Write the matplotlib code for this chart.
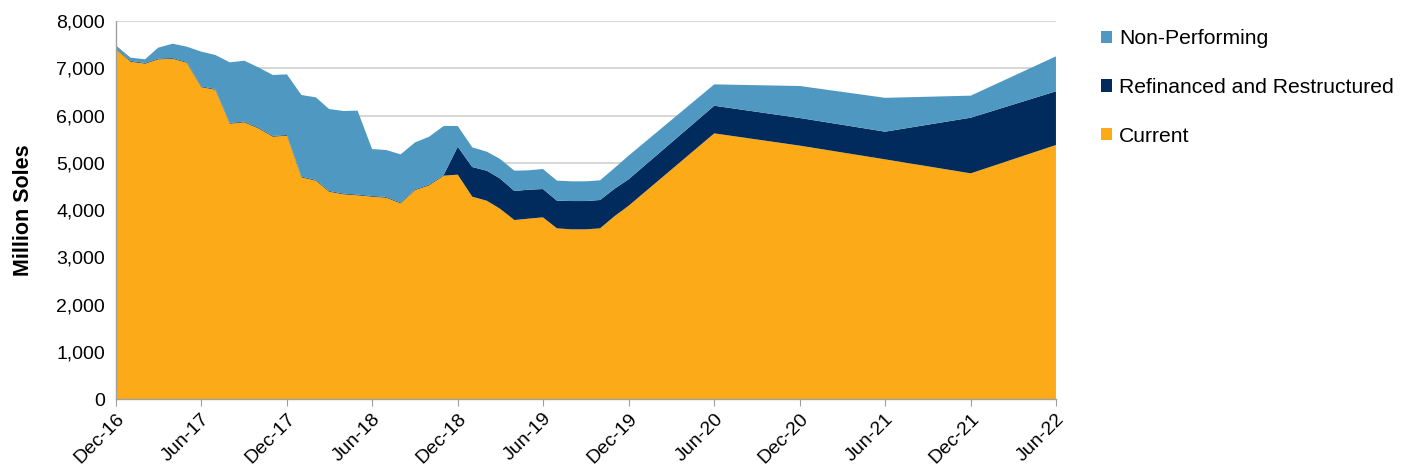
import matplotlib
matplotlib.use("Agg")
import matplotlib.pyplot as plt
import matplotlib.dates as mdates
import pandas as pd
import numpy as np
from matplotlib.patches import Patch

plt.rcParams['font.family'] = ['Liberation Sans', 'DejaVu Sans']

months = ["2016-12", "2017-01", "2017-02", "2017-03", "2017-04", "2017-05", "2017-06",
          "2017-07", "2017-08", "2017-09", "2017-10", "2017-11", "2017-12",
          "2018-01", "2018-02", "2018-03", "2018-04", "2018-05", "2018-06",
          "2018-07", "2018-08", "2018-09", "2018-10", "2018-11", "2018-12",
          "2019-01", "2019-02", "2019-03", "2019-04", "2019-05", "2019-06",
          "2019-07", "2019-08", "2019-09", "2019-10", "2019-11", "2019-12",
          "2020-06", "2020-12", "2021-06", "2021-12", "2022-06"]

current = [7400, 7139, 7097, 7189, 7200, 7118, 6600,
           6546, 5827, 5856, 5729, 5552, 5573,
           4692, 4621, 4388, 4332, 4311, 4282,
           4261, 4141, 4423, 4522, 4727, 4748,
           4282, 4197, 4030, 3788, 3817, 3845,
           3612, 3591, 3591, 3612, 3870, 4090,
           5622, 5362, 5072, 4776, 5376]

refinanced = [15, 15, 15, 15, 15, 15, 15,
              15, 15, 15, 15, 15, 15,
              15, 15, 15, 15, 15, 15,
              15, 15, 15, 15, 15, 592,
              628, 635, 640, 614, 613, 599,
              585, 599, 599, 600, 580, 560,
              585, 585, 586, 1178, 1136]

non_performing = [65, 70, 78, 232, 305, 324, 737,
                  720, 1283, 1289, 1275, 1290, 1283,
                  1727, 1748, 1735, 1748, 1776, 993,
                  994, 1022, 994, 1015, 1036, 438,
                  416, 403, 413, 430, 410, 424,
                  424, 417, 417, 416, 440, 500,
                  452, 677, 716, 466, 740]

series_names = ["Current", "Refinanced and Restructured", "Non-Performing"]
colors = ["#FDAA19", "#002B5C", "#4E98C1"]

tick_months = ["2016-12", "2017-06", "2017-12", "2018-06", "2018-12", "2019-06",
               "2019-12", "2020-06", "2020-12", "2021-06", "2021-12", "2022-06"]

dates = pd.to_datetime(months)
tick_dates = pd.to_datetime(tick_months)

fig = plt.figure(figsize=(14.17, 4.73), dpi=100)
ax = fig.add_axes([0.0819, 0.1564, 0.6633, 0.7992])

ax.stackplot(dates, current, refinanced, non_performing, colors=colors,
             labels=series_names, linewidth=0)

ax.set_xlim(dates[0], dates[-1])
ax.set_ylim(0, 8000)
ax.set_yticks(np.arange(0, 8001, 1000))
ax.yaxis.set_major_formatter(matplotlib.ticker.FuncFormatter(lambda v, p: f"{int(v):,}"))
ax.grid(axis='y', color='#D0D0D0', linewidth=1.2)
ax.set_axisbelow(True)

ax.set_xticks(tick_dates)
ax.xaxis.set_major_formatter(mdates.DateFormatter("%b-%y"))
for lbl in ax.get_xticklabels():
    lbl.set_rotation(45)
    lbl.set_ha('right')
    lbl.set_rotation_mode('anchor')

ax.tick_params(axis='x', length=5, color='#A0A0A0', labelsize=14, pad=3)
ax.tick_params(axis='y', length=0, labelsize=14, pad=8)

for s in ['top', 'right']:
    ax.spines[s].set_visible(False)
for s in ['left', 'bottom']:
    ax.spines[s].set_color('#A0A0A0')
    ax.spines[s].set_linewidth(1)

ax.set_ylabel("Million Soles", fontsize=15.5, fontweight='bold', labelpad=16)

handles = [Patch(facecolor=colors[2]), Patch(facecolor=colors[1]), Patch(facecolor=colors[0])]
labels = [series_names[2], series_names[1], series_names[0]]
fig.legend(handles, labels, loc='upper left', bbox_to_anchor=(0.7635, 0.978),
           frameon=False, fontsize=15.2, handlelength=0.55, handleheight=0.55,
           handletextpad=0.3, labelspacing=1.4)

fig.savefig("out.png", dpi=100)
